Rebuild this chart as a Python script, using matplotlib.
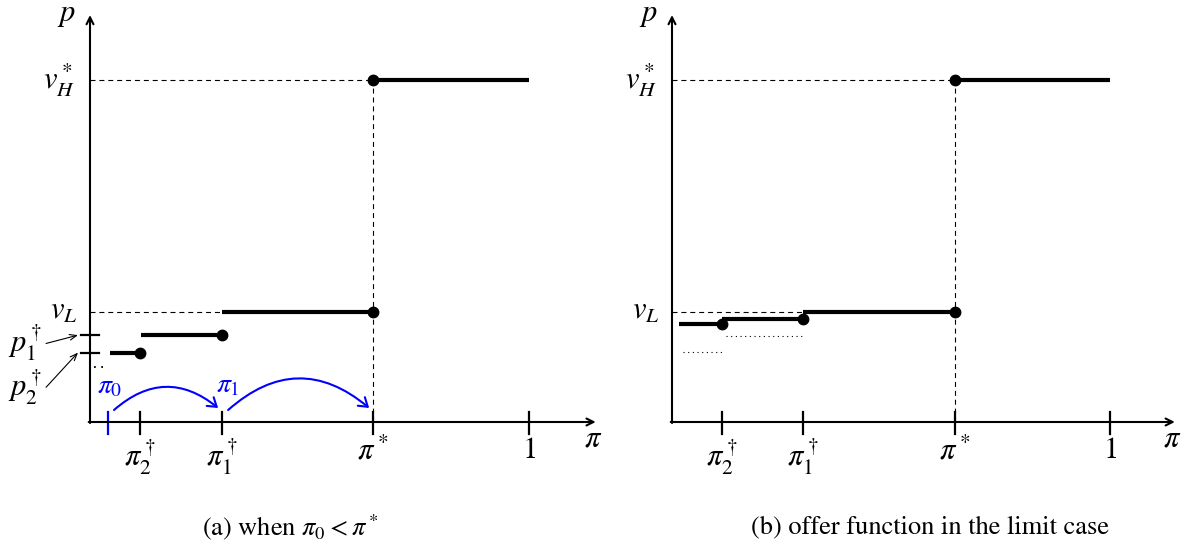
import matplotlib
matplotlib.use("Agg")
import matplotlib.pyplot as plt
from matplotlib.patches import FancyArrowPatch

plt.rcParams["font.family"] = ["STIXGeneral", "DejaVu Serif"]
plt.rcParams["mathtext.fontset"] = "stix"

# panel (a): positions on the pi axis and price levels (v_H^* = 1)
pi_0 = 0.041
pi2_dag = 0.114
pi1_dag = 0.301
pi_star = 0.645
vH = 1.0
vL = 0.322
p1_dag = 0.254
p2_dag = 0.203
seg_a_start = [0.046, 0.116, pi1_dag, pi_star]
seg_a_end = [pi2_dag, pi1_dag, pi_star, 1.0]
seg_a_level = [p2_dag, p1_dag, vL, vH]

# panel (b): limit case
pi2_b = 0.114
pi1_b = 0.299
pistar_b = 0.646
seg_b_start = [0.016, pi2_b, pi1_b, pistar_b]
seg_b_end = [pi2_b, pi1_b, pistar_b, 1.0]
seg_b_level = [0.287, 0.301, vL, vH]
dot_b_start = [0.025, 0.123]
dot_b_end = [pi2_b, pi1_b]
dot_b_level = [0.205, 0.251]

W, H = 1191, 550
FS = 22
fig = plt.figure(figsize=(W / 100, H / 100), dpi=100)


def make_panel(left_px, right_px, ox, oy, sx, sy):
    ax = fig.add_axes([left_px / W, 0, (right_px - left_px) / W, 1])
    ax.set_xlim((left_px - ox) / sx, (right_px - ox) / sx)
    ax.set_ylim((oy - H) / sy, oy / sy)
    ax.axis("off")
    return ax


def draw_axes(ax, xend, yend):
    ax.annotate("", xy=(xend, 0), xytext=(-0.003, 0),
                arrowprops=dict(arrowstyle="->,head_length=0.5,head_width=0.25",
                                lw=1.5, color="black", shrinkA=0, shrinkB=0))
    ax.annotate("", xy=(0, yend), xytext=(0, -0.003),
                arrowprops=dict(arrowstyle="->,head_length=0.5,head_width=0.25",
                                lw=1.5, color="black", shrinkA=0, shrinkB=0))
    ax.annotate(r"$p$", xy=(0, yend), xytext=(-17, 0), textcoords="offset points",
                ha="center", va="center", fontsize=FS)
    ax.annotate(r"$\pi$", xy=(xend, 0), xytext=(-2, -13), textcoords="offset points",
                ha="center", va="center", fontsize=FS)


def xtick(ax, x, label, color="black"):
    ax.plot([x, x], [10 / 342, -12 / 342], color=color, lw=1.6, clip_on=False)
    if label:
        ax.annotate(label, xy=(x, 0), xytext=(0, -11), textcoords="offset points",
                    ha="center", va="top", fontsize=FS)


def steps(ax, starts, ends, levels, dots):
    for s, e, lv in zip(starts, ends, levels):
        ax.plot([s, e], [lv, lv], color="black", lw=3.0, solid_capstyle="butt",
                clip_on=False)
    for x, y in dots:
        ax.plot(x, y, "o", color="black", ms=7.5, clip_on=False)


def dashed(ax, xs, ys):
    ax.plot(xs, ys, color="black", lw=0.8, dashes=(4.5, 3.5), clip_on=False)


# ---------------- panel (a)
ax = make_panel(0, 600, 90, 422, 439, 342)
draw_axes(ax, 1.152, 1.19)
dashed(ax, [0, pi_star], [vH, vH])
dashed(ax, [0, pi1_dag], [vL, vL])
dashed(ax, [pi_star, pi_star], [0, vH])
steps(ax, seg_a_start, seg_a_end, seg_a_level,
      [(pi2_dag, p2_dag), (pi1_dag, p1_dag), (pi_star, vL), (pi_star, vH)])
for x, lab in [(pi2_dag, r"$\pi_2^\dagger$"), (pi1_dag, r"$\pi_1^\dagger$"),
               (pi_star, r"$\pi^*$"), (1.0, r"$1$")]:
    xtick(ax, x, lab)
xtick(ax, pi_0, "", color="blue")
ax.annotate(r"$v_H^*$", xy=(0, vH), xytext=(-22, 0), textcoords="offset points",
            ha="center", va="center", fontsize=FS)
ax.annotate(r"$v_L$", xy=(0, vL), xytext=(-19, 0), textcoords="offset points",
            ha="center", va="center", fontsize=FS)
# p-dagger ticks on the p axis, with labels and pointer arrows
for lv, lab, dy_lab, dy_arr in [(p1_dag, r"$p_1^\dagger$", -6, -6),
                                 (p2_dag, r"$p_2^\dagger$", -25, -25)]:
    ax.plot([-9 / 439, 9 / 439], [lv, lv], color="black", lw=1.6, clip_on=False)
    ax.annotate(lab, xy=(-12 / 439, lv), xytext=(-38, dy_lab),
                textcoords="offset points", ha="center", va="center", fontsize=FS)
    ax.annotate("", xy=(-12 / 439, lv), xytext=(-23, dy_arr),
                textcoords="offset points",
                arrowprops=dict(arrowstyle="->,head_length=0.5,head_width=0.2",
                                lw=0.8, color="black", shrinkA=0, shrinkB=0))
ax.plot([0.01, 0.037], [0.162, 0.162], color="black", lw=1.3,
        dashes=(1, 3), clip_on=False)
ax.annotate(r"$\pi_0$", xy=(pi_0, 0), xytext=(1, 25), textcoords="offset points",
            ha="center", va="center", fontsize=FS - 2, color="blue")
ax.annotate(r"$\pi_1$", xy=(pi1_dag, 0), xytext=(4, 26), textcoords="offset points",
            ha="center", va="center", fontsize=FS - 2, color="blue")
for a, b, rad in [(pi_0, pi1_dag, -0.42), (pi1_dag, pi_star, -0.43)]:
    arc = FancyArrowPatch((a + 6 / 439, 12 / 342), (b - 4 / 439, 14 / 342),
                          connectionstyle="arc3,rad=%.2f" % rad,
                          arrowstyle="->,head_length=6,head_width=4",
                          color="blue", lw=1.5, shrinkA=0, shrinkB=0)
    ax.add_patch(arc)

# ---------------- panel (b)
bx = make_panel(600, W, 672, 422, 438, 342)
draw_axes(bx, 1.148, 1.19)
dashed(bx, [0, pistar_b], [vH, vH])
dashed(bx, [0, pi1_b], [vL, vL])
dashed(bx, [pistar_b, pistar_b], [0, vH])
steps(bx, seg_b_start, seg_b_end, seg_b_level,
      [(pi2_b, 0.287), (pi1_b, 0.301), (pistar_b, vL), (pistar_b, vH)])
for s, e, lv in zip(dot_b_start, dot_b_end, dot_b_level):
    bx.plot([s, e], [lv, lv], color="black", lw=0.8, dashes=(1, 3.2),
            clip_on=False)
for x, lab in [(pi2_b, r"$\pi_2^\dagger$"), (pi1_b, r"$\pi_1^\dagger$"),
               (pistar_b, r"$\pi^*$"), (1.0, r"$1$")]:
    xtick(bx, x, lab)
bx.annotate(r"$v_H^*$", xy=(0, vH), xytext=(-22, 0), textcoords="offset points",
            ha="center", va="center", fontsize=FS)
bx.annotate(r"$v_L$", xy=(0, vL), xytext=(-19, 0), textcoords="offset points",
            ha="center", va="center", fontsize=FS)

fig.text(290 / W, 1 - 527 / H, r"(a) when $\pi_0 < \pi^*$", ha="center",
         va="center", fontsize=19)
fig.text(930 / W, 1 - 527 / H, "(b) offer function in the limit case",
         ha="center", va="center", fontsize=19)

fig.savefig("out.png", dpi=100)
